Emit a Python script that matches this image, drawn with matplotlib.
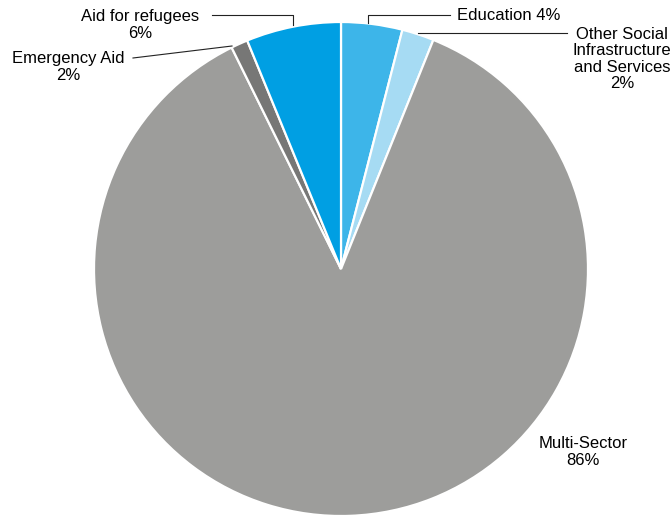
import matplotlib.pyplot as plt
import numpy as np

plt.rcParams['font.family'] = ['Liberation Sans', 'DejaVu Sans']

sectors = ['Education', 'Other Social Infrastructure and Services', 'Multi-Sector',
           'Emergency Aid', 'Aid for refugees']
shares = [4.0, 2.1, 86.6, 1.1, 6.2]
label_texts = ['Education 4%', 'Other Social\nInfrastructure\nand Services\n2%',
               'Multi-Sector\n86%', 'Emergency Aid\n2%', 'Aid for refugees\n6%']
colors = ['#3db5e9', '#a6dbf3', '#9d9d9b', '#777776', '#009fe3']

W, H = 672, 515
fig = plt.figure(figsize=(W / 100, H / 100), dpi=100)
ax = fig.add_axes([0, 0, 1, 1])

cx, cy, r = 341, H - 269, 247
ax.pie(shares, colors=colors, startangle=90, counterclock=False,
       center=(cx, cy), radius=r, frame=True,
       wedgeprops=dict(edgecolor='white', linewidth=1.6))
ax.set_xlim(0, W)
ax.set_ylim(0, H)
ax.set_aspect('equal')
ax.axis('off')

def yy(y):
    return H - y

lc = '#222222'
ls = 1.12
# Education
ax.plot([368, 368, 450], [yy(23), yy(15), yy(15)], color=lc, lw=0.8)
ax.text(457, yy(16), label_texts[0], ha='left', va='center', fontsize=12)
# Other social
ax.plot([418, 567], [yy(33), yy(33)], color=lc, lw=0.8)
ax.text(622, yy(59), label_texts[1], ha='center', va='center', fontsize=12,
        linespacing=ls)
# Multi-sector
ax.text(583, yy(452), label_texts[2], ha='center', va='center', fontsize=12,
        linespacing=ls)
# Emergency aid
ax.plot([133, 232], [yy(58), yy(46)], color=lc, lw=0.8)
ax.text(68, yy(67), label_texts[3], ha='center', va='center', fontsize=12,
        linespacing=ls)
# Aid for refugees
ax.plot([212, 293, 293], [yy(15), yy(15), yy(25)], color=lc, lw=0.8)
ax.text(140, yy(25), label_texts[4], ha='center', va='center', fontsize=12,
        linespacing=ls)

fig.savefig('out.png', dpi=100)
